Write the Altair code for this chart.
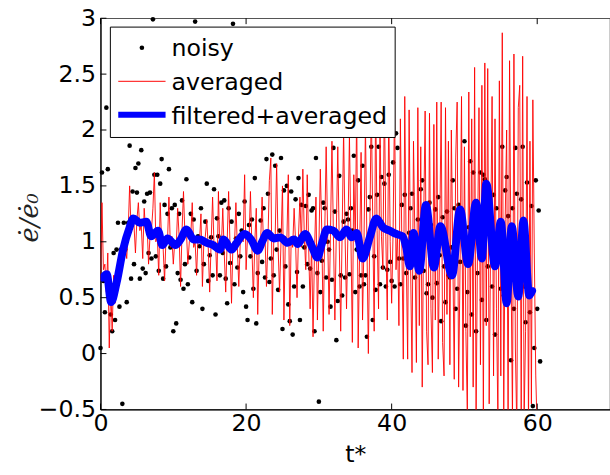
import altair as alt
import pandas as pd

# ---------------- data ----------------
T_START = 0.0
T_STEP = 0.2

# noisy samples, one every 0.2 time units from t*=0 to t*=60.4
NOISY = [
    0.05, 1.62, 0.65, 0.37, 2.2, 1.65, 0.55, 0.35, 0.2, 0.9,
    0.3, 0.93, 1.17, 0.42, 0.93, -0.45, 1.17, 0.93, 0.46, 1.17,
    1.86, 0.67, 1.45, 0.8, 1.66, 1.44, 1.7, 0.67, 1.82, 0.76,
    1.36, 0.72, 1.43, 0.9, 1.44, 0.85, 2.99, 1.6, 0.87, 1.6,
    0.74, 1.52, 1.74, 0.67, 1.33, 0.78, 1.25, 1.65, 0.95, 1.3,
    0.2, 1.33, 0.27, 0.72, 1.25, 0.66, 1.37, 0.58, 0.8, 1.56,
    0.62, 0.86, 1.25, 0.46, 1.2, 2.97, 0.74, 1.05, 0.96, 1.3,
    0.4, 0.8, 1.18, 1.52, 0.65, 0.88, 1.04, 0.7, 1.47, 0.35,
    1.21, 1.05, 0.7, 1.35, 0.9, 1.37, 0.67, 0.45, 1.3, 0.81,
    1.18, 2.95, 0.62, 1.03, 0.77, 1.25, 0.87, 1.1, 0.55, 1.36,
    0.42, 0.3, 1.15, 0.87, 1.2, 0.58, 1.57, 0.27, 0.72, 0.95,
    1.19, 0.82, 1.3, 0.68, 1.74, 1.43, 0.64, 0.85, 1.78, 0.7,
    1.68, 0.93, 0.57, 1.1, 1.75, 0.22, 1.46, 0.78, 1.5, 0.44,
    0.29, 1.45, 0.17, 0.6, 1.38, 0.73, 1.57, 0.3, 1.33, 0.6,
    0.95, 1.32, 0.8, 1.42, 0.76, 1.28, 1.3, 0.2, 1.75, 0.72,
    -0.43, 0.55, 0.83, 1.35, 1.3, 0.68, 1.0, 0.93, 0.42, 0.66,
    1.84, 1.27, 0.12, 0.47, 1.59, 0.7, 0.52, 1.18, 0.68, 1.25,
    1.2, 0.71, 1.3, 1.1, 1.77, 0.55, 0.93, 1.55, 0.6, 0.7,
    1.68, 0.62, 0.7, 0.15, 1.29, 1.4, 1.85, 0.3, 0.87, 0.57,
    1.42, 1.85, 0.62, 1.58, 0.77, 1.52, 0.6, 0.75, 1.6, 0.82,
    0.65, 1.71, 0.6, 1.97, 1.84, 0.85, 0.62, 1.33, 0.85, 1.42,
    0.72, 0.92, 1.08, 1.3, 1.43, 0.8, 0.68, 1.04, 1.2, 0.9,
    1.47, 1.55, 0.74, 1.24, 0.54, 0.62, 1.35, 1.15, 0.5, 0.92,
    1.29, 0.63, 1.4, 0.88, 0.29, 1.22, 0.78, 0.46, 1.27, 0.7,
    0.68, 0.95, 1.55, 1.3, 0.4, 0.58, 1.33, 0.82, 1.17, 1.2,
    1.9, 0.25, 0.55, 1.13, 1.72, 0.35, 1.62, 1.3, 0.2, 0.72,
    1.2, 1.62, 0.48, 1.6, 1.56, 0.3, 0.78, 1.45, 0.97, 0.6,
    1.42, 0.17, 1.3, 0.92, 1.1, 0.58, 1.85, 0.52, 1.46, 1.58,
    1.23, 0.62, -0.06, 1.3, 0.4, 1.84, 1.43, 0.55, 0.88, 1.38,
    1.85, 0.6, 0.28, 1.53, 0.51, 0.37, 1.32, -0.47, 0.05, 1.55,
    0.4, 1.28, -0.07,
]

# averaged signal, one every 0.2 time units from t*=0 to t*=60
AVERAGED = [
    0.65, 1.35, 0.75, 0.8, 0.55, 0.9, 0.05, 0.6, 0.2, 0.7,
    0.45, 0.75, 0.6, 0.9, 0.8, 0.85, 1.0, 0.95, 0.85, 1.1,
    1.5, 1.1, 1.2, 1.15, 0.9, 1.2, 1.35, 1.1, 1.15, 0.85,
    1.3, 1.1, 1.15, 0.8, 1.05, 1.1, 1.3, 1.62, 1.0, 1.05,
    0.7, 1.35, 1.0, 0.95, 0.65, 1.05, 1.0, 1.4, 0.95, 1.05,
    0.8, 1.0, 0.95, 1.3, 1.05, 0.6, 1.1, 1.45, 1.05, 1.1,
    0.8, 1.0, 1.05, 1.35, 0.95, 1.0, 0.7, 1.05, 1.0, 1.25,
    0.6, 1.0, 1.05, 1.2, 0.95, 0.55, 1.0, 1.4, 0.95, 1.0,
    0.65, 1.45, 0.9, 0.95, 1.3, 0.9, 0.55, 1.0, 1.45, 0.95,
    0.45, 1.0, 0.95, 1.35, 0.95, 0.6, 1.0, 1.05, 1.0, 1.6,
    0.75, 1.05, 1.0, 1.45, 0.95, 0.5, 1.0, 1.3, 0.35, 0.95,
    1.0, 1.4, 0.95, 1.05, 0.6, 1.0, 1.55, 1.75, 0.35, 1.0,
    1.05, 1.7, 0.95, 0.55, 1.0, 1.5, 0.3, 1.05, 1.0, 1.6,
    0.25, 1.05, 0.95, 1.3, 1.0, 0.5, 1.05, 1.4, 0.95, 1.65,
    1.05, 0.75, 1.6, 0.95, 0.4, 1.0, 0.15, 0.9, 1.4, 0.3,
    0.95, 1.65, 1.1, 0.2, 1.05, 1.85, 1.1, 0.35, 1.1, 1.9,
    1.05, 0.3, 1.1, 1.85, 1.0, 0.2, 1.1, 2.0, 1.05, 0.4,
    1.1, 1.95, 1.05, 0.1, 1.6, 1.0, 2.2, 0.05, 0.9, 1.8,
    0.3, 1.0, 2.05, 1.0, 0.0, 1.1, 2.25, 1.2, 0.2, 2.3,
    1.1, 0.4, 2.1, 1.05, 0.75, 2.35, 1.05, 0.3, 2.2, 1.0,
    0.45, 1.1, 2.25, 0.75, 1.1, 0.25, 2.1, 1.0, -0.05, 2.3,
    0.9, -0.05, 2.18, 0.8, -0.17, 1.9, 1.0, -0.08, 2.2, 0.25,
    1.85, -0.3, 1.2, 2.17, 0.2, -0.1, 2.15, 0.4, -0.17, 2.05,
    0.3, 2.25, -0.05, 1.0, 2.25, 0.1, -0.2, 2.2, 0.35, 1.9,
    -0.1, 2.0, 0.9, -0.23, 1.75, 2.25, -0.3, 0.8, 2.3, -0.33,
    1.85, 0.2, -0.55, 2.34, 0.15, 2.1, -0.3, 2.56, -0.6, 1.0,
    2.2, -0.1, 2.4, -0.6, 2.6, 0.25, 2.55, -0.45, 1.0, 2.3,
    -0.2, 2.1, 0.4, -0.6, 2.44, -0.2, 2.87, -0.55, 1.2, 2.0,
    -0.65, 2.62, 0.8, -0.6, 2.68, 0.05, -0.7, 2.2, 2.4, -0.5,
    2.66, -0.6, 0.2, 2.3, -0.7, 1.9, -0.45, 2.27, 0.9, -0.2,
    -0.7,
]

# filtered + averaged signal (turning points)
FILT_T = [
    0.3, 0.86, 1.45, 2.2, 3.1, 4.0, 4.5, 5.4, 6.3, 6.95, 7.9, 8.5, 9.2,
    10.3, 11.0, 11.8, 12.8, 13.6, 14.6, 15.5, 16.4, 16.9, 18.0, 18.7,
    19.8, 20.7, 21.6, 22.2, 22.9, 23.8, 24.7, 25.7, 26.6, 27.1, 28.1,
    29.1, 29.8, 30.4, 31.1, 32.0, 32.9, 33.8, 34.5, 35.2, 36.0, 37.0,
    37.9, 38.8, 39.7, 40.6, 41.5, 42.0, 42.5, 43.0, 43.8, 44.7, 45.8,
    46.7, 48.3, 49.4, 50.5, 51.6, 52.4, 53.0, 54.2, 55.0, 55.8, 56.5,
    57.4, 58.1, 58.9, 59.3,
]
FILT_V = [
    0.68, 0.71, 0.46, 0.63, 0.93, 1.13, 1.21, 1.17, 1.18, 1.05, 1.10,
    0.97, 1.03, 0.97, 1.02, 1.11, 1.02, 1.02, 0.99, 0.97, 0.93, 1.02,
    0.93, 0.99, 1.07, 1.02, 0.92, 1.00, 1.08, 1.03, 1.04, 0.99, 1.02,
    0.98, 1.07, 0.95, 0.86, 0.98, 1.11, 1.10, 1.04, 1.11, 1.04, 1.08,
    0.85, 1.04, 1.21, 1.13, 1.10, 1.07, 1.05, 0.95, 0.78, 1.08, 0.74,
    1.33, 0.77, 1.14, 0.70, 1.29, 0.80, 1.35, 0.85, 1.52, 0.78, 1.18,
    0.45, 1.14, 0.51, 1.19, 0.52, 0.56,
]

X_TICKS = [0, 20, 40, 60]
Y_TICKS = [-0.5, 0, 0.5, 1, 1.5, 2, 2.5, 3]
LEGEND_LABELS = ["noisy", "averaged", "filtered+averaged"]

# ---------------- tables ----------------
noisy_df = pd.DataFrame({
    "t": [round(T_START + i * T_STEP, 2) for i in range(len(NOISY))],
    "v": NOISY,
})
avg_df = pd.DataFrame({
    "t": [round(T_START + i * T_STEP, 2) for i in range(len(AVERAGED))],
    "v": AVERAGED,
})
filt_df = pd.DataFrame({"t": FILT_T, "v": FILT_V})
xt_df = pd.DataFrame({"t": X_TICKS})
yt_df = pd.DataFrame({"v": Y_TICKS})
one = pd.DataFrame({"k": [0]})

W, H = 517, 397
FONT = "DejaVu Sans"

xs = alt.Scale(domain=[0, 70], nice=False, zero=False)
ys = alt.Scale(domain=[-0.5, 3], nice=False, zero=False)

x_axis = alt.Axis(
    values=X_TICKS, ticks=False, grid=False, domain=True, domainColor="black",
    domainWidth=1.2, labelFont=FONT, labelFontSize=24, labelColor="black",
    labelPadding=2, labelFlush=False, labelOverlap=False,
    title="t*", titleFont=FONT, titleFontSize=24, titleFontWeight="normal",
    titleColor="black", titleY=46, titleBaseline="middle",
)
y_axis = alt.Axis(
    values=Y_TICKS, format="~g", ticks=False, grid=False, domain=True,
    domainColor="black", domainWidth=1.2, labelFont=FONT, labelFontSize=24,
    labelColor="black", labelPadding=5, labelFlush=False, labelOverlap=False,
    labelBaseline="middle",
    title="ė/ė₀", titleFont="DejaVu Serif", titleFontStyle="italic",
    titleFontSize=26, titleFontWeight="normal", titleColor="#222222",
    titleX=-72, titleY=202, titleAngle=270, titleAlign="center",
    titleBaseline="middle",
)

X = alt.X("t:Q", scale=xs, axis=x_axis)
Y = alt.Y("v:Q", scale=ys, axis=y_axis)

points = alt.Chart(noisy_df).mark_circle(size=22, color="black", opacity=1).encode(
    x=X, y=Y)
red = alt.Chart(avg_df).mark_line(color="#ff0000", strokeWidth=0.9, clip=True).encode(
    x=X, y=Y)
blue = alt.Chart(filt_df).mark_line(
    color="#0000ff", strokeWidth=8, interpolate="monotone",
    strokeCap="round", strokeJoin="round", clip=True,
).encode(x=X, y=Y)

# inward tick marks
tick_bottom = alt.Chart(xt_df).mark_rule(color="black", strokeWidth=1).encode(
    x=X, y=alt.value(H), y2=alt.value(H - 6))
tick_top = alt.Chart(xt_df).mark_rule(color="black", strokeWidth=1).encode(
    x=X, y=alt.value(0), y2=alt.value(6))
tick_left = alt.Chart(yt_df).mark_rule(color="black", strokeWidth=1).encode(
    y=Y, x=alt.value(0), x2=alt.value(6))

# legend
leg_box = alt.Chart(one).mark_rect(fill="white", stroke="black", strokeWidth=1).encode(
    x=alt.value(10), x2=alt.value(299), y=alt.value(9), y2=alt.value(121))
leg_dot = alt.Chart(one).mark_circle(size=22, color="black", opacity=1).encode(
    x=alt.value(42), y=alt.value(30))
leg_red = alt.Chart(one).mark_rule(color="#ff0000", strokeWidth=1).encode(
    x=alt.value(18), x2=alt.value(66), y=alt.value(64))
leg_blue = alt.Chart(one).mark_rule(color="#0000ff", strokeWidth=6).encode(
    x=alt.value(18), x2=alt.value(66), y=alt.value(98))
leg_texts = [
    alt.Chart(one).mark_text(align="left", baseline="middle", font=FONT,
                             fontSize=24, color="black").encode(
        x=alt.value(72), y=alt.value(yy), text=alt.value(lab))
    for lab, yy in zip(LEGEND_LABELS, [31, 66, 100])
]

chart = alt.layer(
    points, red, blue, tick_bottom, tick_top, tick_left,
    leg_box, leg_dot, leg_red, leg_blue, *leg_texts,
).properties(
    width=W, height=H,
    autosize=alt.AutoSizeParams(type="none"),
    padding={"left": 102, "top": 15, "right": 0, "bottom": 63},
    background="white",
).configure_view(stroke="#555555", strokeWidth=1.2)

chart.save("out.html", embed_options={"renderer": "svg", "actions": False})
